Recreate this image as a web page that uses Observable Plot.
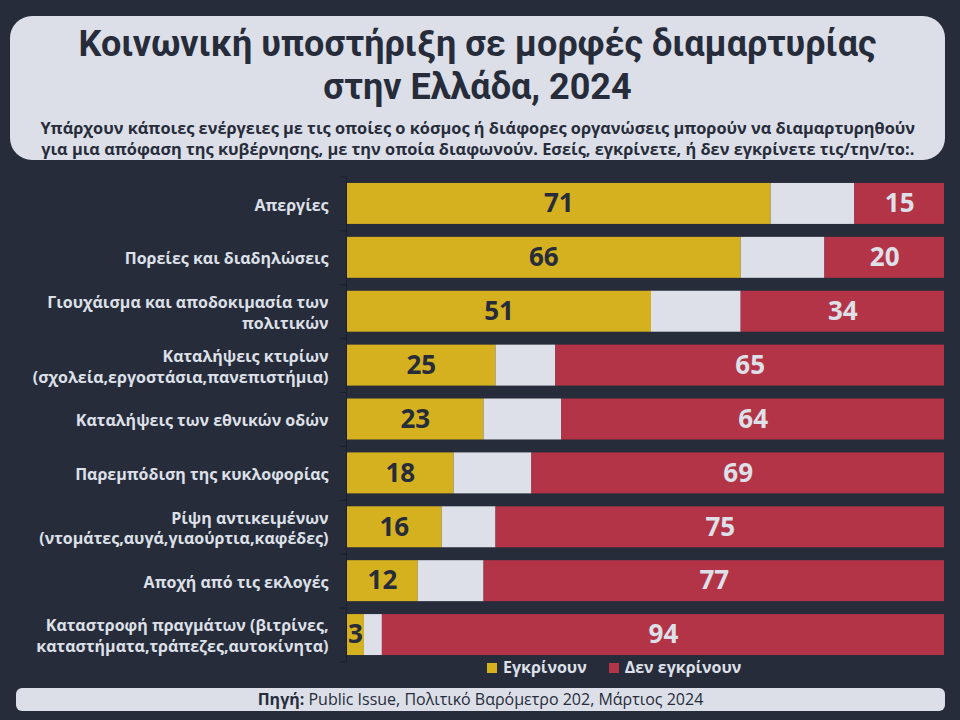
<!DOCTYPE html>
<html><head><meta charset="utf-8">
<script src="https://cdn.jsdelivr.net/npm/d3@7"></script>
<script src="https://cdn.jsdelivr.net/npm/@observablehq/plot@0.6"></script>
<style>
body{margin:0;background:#272c3b;width:960px;height:720px;overflow:hidden;font-family:"Open Sans",sans-serif;position:relative}
#tbox{position:absolute;left:10px;top:16px;width:935px;height:144px;background:#dcdfe7;border-radius:22px}
.t{position:absolute;left:0;width:935px;text-align:center;color:#272c3b;font-weight:bold;white-space:nowrap}
.t span{display:inline-block;transform-origin:center;text-align:center}
#t1{top:7px;font-family:Roboto,"Open Sans",sans-serif;font-size:36px;line-height:43px}
#t1 span{transform:scaleX(1.0)}
#s1{top:101px;font-size:16.5px;line-height:21px}
#s1 span{transform:scaleX(0.99)}
#chart{position:absolute;left:0;top:170px}
#legend{position:absolute;top:656px;left:487px;font-size:16px;font-weight:bold;color:#dde0e8;white-space:nowrap}
#legend .sw{display:inline-block;width:10px;height:10px;margin-right:6px;vertical-align:0px}
#src{position:absolute;left:16px;top:688px;width:929px;height:23px;background:#dcdfe7;border-radius:6px;text-align:center;font-size:16px;line-height:23px;color:#272c3b}
</style></head>
<body>
<div id="tbox">
<div class="t" id="t1"><span>Κοινωνική υποστήριξη σε μορφές διαμαρτυρίας<br>στην Ελλάδα, 2024</span></div>
<div class="t" id="s1"><span>Υπάρχουν κάποιες ενέργειες με τις οποίες ο κόσμος ή διάφορες οργανώσεις μπορούν να διαμαρτυρηθούν<br>για μια απόφαση της κυβέρνησης, με την οποία διαφωνούν. Εσείς, εγκρίνετε, ή δεν εγκρίνετε τις/την/το:.</span></div>
</div>
<div id="chart"></div>
<div id="legend"><span class="sw" style="background:#d5b11f"></span>Εγκρίνουν<span style="display:inline-block;width:22px"></span><span class="sw" style="background:#b23446"></span>Δεν εγκρίνουν</div>
<div id="src"><b>Πηγή:</b> Public Issue, Πολιτικό Βαρόμετρο 202, Μάρτιος 2024</div>
<script>
const categories = [
  "Απεργίες",
  "Πορείες και διαδηλώσεις",
  "Γιουχάισμα και αποδοκιμασία των\nπολιτικών",
  "Καταλήψεις κτιρίων\n(σχολεία,εργοστάσια,πανεπιστήμια)",
  "Καταλήψεις των εθνικών οδών",
  "Παρεμπόδιση της κυκλοφορίας",
  "Ρίψη αντικειμένων\n(ντομάτες,αυγά,γιαούρτια,καφέδες)",
  "Αποχή από τις εκλογές",
  "Καταστροφή πραγμάτων (βιτρίνες,\nκαταστήματα,τράπεζες,αυτοκίνητα)"
];
const approve    = [71, 66, 51, 25, 23, 18, 16, 12, 3];
const neutral    = [14, 14, 15, 10, 13, 13,  9, 11, 3];
const disapprove = [15, 20, 34, 65, 64, 69, 75, 77, 94];
const types = ["Εγκρίνουν", "Ξ/Δ", "Δεν εγκρίνουν"];
const colors = ["#d5b11f", "#dde0e8", "#b23446"];

const data = [];
categories.forEach((c, i) => {
  let start = 0;
  [approve[i], neutral[i], disapprove[i]].forEach((v, k) => {
    data.push({cat: c, type: types[k], v, x1: start, x2: start + v});
    start += v;
  });
});

const plot = Plot.plot({
  width: 960, height: 495,
  marginLeft: 346, marginRight: 16, marginTop: 6.5, marginBottom: 3.5,
  style: {background: "transparent", overflow: "visible", fontFamily: "Open Sans"},
  x: {domain: [0, 100], axis: null},
  y: {domain: categories, paddingInner: 0.24, paddingOuter: 0.12, round: false, label: null, axis: null},
  color: {domain: types, range: colors},
  marks: [
    Plot.barX(data, {x1: "x1", x2: "x2", y: "cat", fill: "type"}),
    Plot.text(data.filter(d => d.type === types[0]), {x: d => (d.x1 + d.x2) / 2, y: "cat", text: "v", fill: "#272c3b", fontSize: 26, fontWeight: "bold"}),
    Plot.text(data.filter(d => d.type === types[2]), {x: d => (d.x1 + d.x2) / 2, y: "cat", text: "v", fill: "#dde0e8", fontSize: 26, fontWeight: "bold"}),
    Plot.axisY({tickSize: 0, tickPadding: 18, fontSize: 16, fontWeight: "bold", fill: "#dde0e8", lineHeight: 1.3, label: null}),
    Plot.ruleX([0], {stroke: "#1a1f2b"}),
    Plot.ruleY(categories, {y: d => d, x1: -1, x2: 0, dy: -27, stroke: "#1a1f2b"}),
    Plot.ruleY(categories.slice(-1), {y: d => d, x1: -1, x2: 0, dy: 27, stroke: "#1a1f2b"})
  ]
});
document.getElementById("chart").appendChild(plot);
</script>
</body></html>
